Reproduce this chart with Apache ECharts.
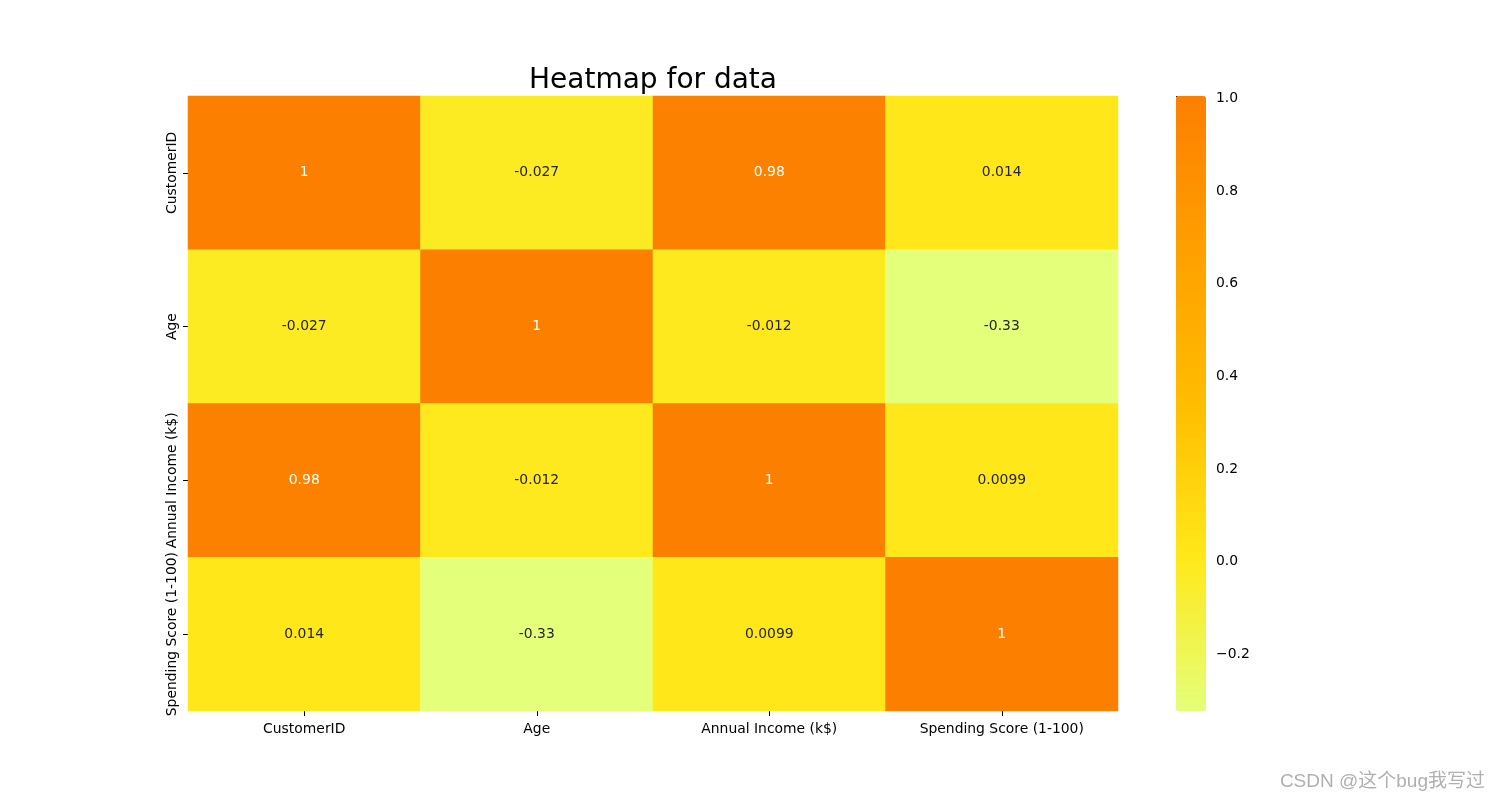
<!DOCTYPE html>
<html>
<head>
<meta charset="utf-8">
<title>Heatmap for data</title>
<script src="https://cdn.jsdelivr.net/npm/echarts@6/dist/echarts.min.js"></script>
<style>
  html, body { margin: 0; padding: 0; background: #fff; }
  #chart { width: 1500px; height: 800px; }
</style>
</head>
<body>
<div id="chart"></div>
<script>
// correlation matrix of the customer columns
var columns = ['CustomerID', 'Age', 'Annual Income (k$)', 'Spending Score (1-100)']
var rowCustomerID = [1, -0.026763, 0.977548, 0.013835]
var rowAge = [-0.026763, 1, -0.012398, -0.327227]
var rowIncome = [0.977548, -0.012398, 1, 0.009903]
var rowSpending = [0.013835, -0.327227, 0.009903, 1]
var colorbarTicks = [-0.2, 0, 0.2, 0.4, 0.6, 0.8, 1.0]

var rows = [rowCustomerID, rowAge, rowIncome, rowSpending]
var font = 'DejaVu Sans'

var cells = []
rows.forEach(function (row, y) {
  row.forEach(function (v, x) {
    cells.push({
      value: [x, y, v],
      label: { color: v > 0.5 ? '#ffffff' : '#262626' }
    })
  })
})

var vmin = Math.min.apply(null, [].concat(rowCustomerID, rowAge, rowIncome, rowSpending))
var vmax = 1

var chart = echarts.init(document.getElementById('chart'))
chart.setOption({
  animation: false,
  backgroundColor: '#ffffff',
  title: {
    text: 'Heatmap for data',
    left: 653,
    top: 67,
    padding: 0,
    textAlign: 'center',
    textStyle: { fontFamily: font, fontSize: 28, fontWeight: 'normal', color: '#000' }
  },
  grid: [
    { left: 188, right: 382, top: 96, bottom: 89 },
    { left: 1176, width: 30, top: 96, bottom: 89 }
  ],
  xAxis: [
    {
      type: 'category',
      gridIndex: 0,
      data: columns,
      axisLine: { show: false },
      axisTick: { show: true, alignWithLabel: true, length: 5, lineStyle: { color: '#000' } },
      axisLabel: { fontFamily: font, fontSize: 13.9, color: '#000', margin: 11, interval: 0 },
      splitLine: { show: false }
    },
    { type: 'value', gridIndex: 1, show: false, min: 0, max: 1 }
  ],
  yAxis: [
    {
      type: 'category',
      gridIndex: 0,
      data: columns,
      inverse: true,
      axisLine: { show: false },
      axisTick: { show: true, alignWithLabel: true, length: 5, lineStyle: { color: '#000' } },
      axisLabel: { fontFamily: font, fontSize: 13.9, color: '#000', rotate: 90, margin: 9, interval: 0 },
      splitLine: { show: false }
    },
    {
      type: 'value',
      gridIndex: 1,
      position: 'right',
      min: vmin,
      max: vmax,
      axisLine: { show: false },
      splitLine: { show: false },
      axisTick: { show: true, length: 5, lineStyle: { color: '#000' }, customValues: colorbarTicks },
      axisLabel: {
        margin: 10,
        customValues: colorbarTicks,
        formatter: function (v) { return '{t|' + v.toFixed(1).replace('-', '\u2212') + '}' },
        rich: {
          t: { fontFamily: font, fontSize: 13.9, color: '#000', padding: [5, 0, 0, 0] }
        }
      }
    }
  ],
  visualMap: {
    type: 'continuous',
    seriesIndex: 0,
    min: vmin,
    max: vmax,
    left: 1176,
    top: 96,
    itemWidth: 30,
    itemHeight: 615,
    padding: 0,
    text: ['', ''],
    showLabel: false,
    hoverLink: false,
    inRange: { color: ['#e4ff7a', '#ffe81a', '#ffbd00', '#ffa000', '#fc7f00'] }
  },
  series: [
    {
      type: 'heatmap',
      xAxisIndex: 0,
      yAxisIndex: 0,
      data: cells,
      label: {
        show: true,
        fontFamily: font,
        fontSize: 13.9,
        formatter: function (p) { return String(Number(p.value[2].toPrecision(2))) }
      },
      emphasis: { disabled: true }
    },
    { type: 'line', xAxisIndex: 1, yAxisIndex: 1, data: [] }
  ],
  graphic: [
    {
      type: 'text',
      right: 15,
      bottom: 9,
      style: {
        text: 'CSDN @这个bug我写过',
        font: '19px "Liberation Sans", "Noto Sans CJK SC"',
        fill: '#b0b0b0'
      }
    }
  ]
})
</script>
</body>
</html>
